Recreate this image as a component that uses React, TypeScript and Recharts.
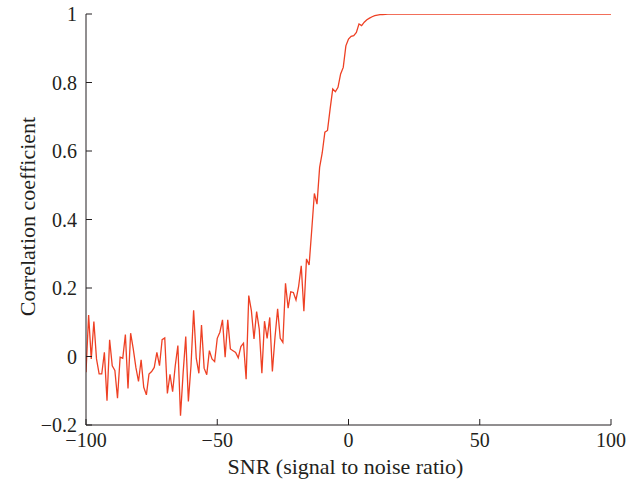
import React from 'react';
import { LineChart, Line, XAxis, YAxis } from 'recharts';

// SNR from -100 to 100 dB in 1 dB steps
const snrStart = -100;
const snrStep = 1;

// Correlation coefficient (one value per dB, -100 .. 100)
const correlation: number[] = [
  // -100 .. -91
  -0.046, 0.121, -0.007, 0.102, -0.007, -0.051, -0.051, 0.012, -0.129, 0.049,
  // -90 .. -81
  -0.027, -0.041, -0.122, -0.002, -0.005, 0.064, -0.093, 0.068, 0.022, -0.032,
  // -80 .. -71
  -0.073, -0.01, -0.09, -0.112, -0.051, -0.044, -0.032, 0.012, -0.027, 0.049,
  // -70 .. -61
  0.054, -0.108, -0.052, -0.103, -0.027, 0.032, -0.173, -0.048, 0.058, -0.131,
  // -60 .. -51
  -0.027, 0.135, -0.005, -0.049, 0.092, -0.034, -0.053, 0.017, -0.007, -0.015,
  // -50 .. -41
  0.053, 0.071, 0.107, -0.002, 0.107, 0.022, 0.017, 0.012, -0.004, 0.029,
  // -40 .. -31
  0.039, -0.066, 0.178, 0.134, 0.051, 0.131, 0.08, -0.049, 0.103, 0.053,
  // -30 .. -21
  0.114, -0.044, 0.056, 0.139, 0.053, 0.041, 0.214, 0.141, 0.189, 0.187,
  // -20 .. -11
  0.165, 0.205, 0.265, 0.132, 0.285, 0.267, 0.37, 0.476, 0.445, 0.552,
  // -10 .. -1
  0.595, 0.655, 0.66, 0.723, 0.781, 0.773, 0.786, 0.825, 0.844, 0.907,
  // 0 .. 9
  0.927, 0.935, 0.937, 0.946, 0.971, 0.966, 0.976, 0.983, 0.988, 0.992,
  // 10 .. 19
  0.995, 0.997, 0.998, 0.9985, 0.999, 0.9994, 0.9996, 0.9998, 0.9999, 1,
  // 20 .. 29
  1, 1, 1, 1, 1, 1, 1, 1, 1, 1,
  // 30 .. 39
  1, 1, 1, 1, 1, 1, 1, 1, 1, 1,
  // 40 .. 49
  1, 1, 1, 1, 1, 1, 1, 1, 1, 1,
  // 50 .. 59
  1, 1, 1, 1, 1, 1, 1, 1, 1, 1,
  // 60 .. 69
  1, 1, 1, 1, 1, 1, 1, 1, 1, 1,
  // 70 .. 79
  1, 1, 1, 1, 1, 1, 1, 1, 1, 1,
  // 80 .. 89
  1, 1, 1, 1, 1, 1, 1, 1, 1, 1,
  // 90 .. 100
  1, 1, 1, 1, 1, 1, 1, 1, 1, 1, 1,
];

const xTicks = [-100, -50, 0, 50, 100];
const yTicks = [-0.2, 0, 0.2, 0.4, 0.6, 0.8, 1];
const xLabel = 'SNR (signal to noise ratio)';
const yLabel = 'Correlation coefficient';

const data = correlation.map((c, i) => ({ snr: snrStart + i * snrStep, corr: c }));

const FONT = '"Liberation Serif", "Times New Roman", serif';
const INK = '#231f20';
const LINE = '#ee4024';

const fmt = (v: number) => {
  const s = Number.isInteger(v) ? String(v) : v.toFixed(1);
  return s.replace('-', '\u2212');
};
const blank = () => '';

const tickStyle = { fill: INK, fontSize: 20, fontFamily: FONT };

const renderXLabel = (props: any) => {
  const vb = props.viewBox || {};
  return (
    <text
      x={vb.x + vb.width / 2 - 3}
      y={vb.y + 49}
      textAnchor="middle"
      fill={INK}
      fontSize={22}
      fontFamily={FONT}
    >
      {xLabel}
    </text>
  );
};

const renderYLabel = (props: any) => {
  const vb = props.viewBox || {};
  const cx = vb.x + 27;
  const cy = vb.y + vb.height / 2 - 3;
  return (
    <text
      x={cx}
      y={cy}
      transform={`rotate(-90, ${cx}, ${cy})`}
      textAnchor="middle"
      dominantBaseline="central"
      fill={INK}
      fontSize={22}
      fontFamily={FONT}
    >
      {yLabel}
    </text>
  );
};

export default function App() {
  return (
    <div style={{ position: 'absolute', left: 0, top: 0, width: 626, height: 487, background: '#fff' }}>
      <LineChart width={626} height={487} data={data} margin={{ top: 14, right: 15, bottom: 0, left: 0 }}>
        <XAxis
          xAxisId="b"
          dataKey="snr"
          type="number"
          domain={[-100, 100]}
          ticks={xTicks}
          interval={0}
          tickFormatter={fmt}
          height={62}
          tickSize={-6}
          tickMargin={14}
          stroke={INK}
          tick={tickStyle}
          label={renderXLabel}
          allowDataOverflow
        />
        <XAxis
          xAxisId="t"
          orientation="top"
          dataKey="snr"
          type="number"
          domain={[-100, 100]}
          ticks={xTicks}
          interval={0}
          tickFormatter={blank}
          height={0}
          tickSize={-6}
          stroke={INK}
          allowDataOverflow
        />
        <YAxis
          yAxisId="l"
          type="number"
          domain={[-0.2, 1]}
          ticks={yTicks}
          interval={0}
          tickFormatter={fmt}
          width={86}
          tickSize={-6}
          tickMargin={15}
          stroke={INK}
          tick={tickStyle}
          label={renderYLabel}
          allowDataOverflow
        />
        <YAxis
          yAxisId="r"
          orientation="right"
          type="number"
          domain={[-0.2, 1]}
          ticks={yTicks}
          interval={0}
          tickFormatter={blank}
          width={0}
          tickSize={-6}
          stroke={INK}
          allowDataOverflow
        />
        <Line
          xAxisId="b"
          yAxisId="l"
          type="linear"
          dataKey="corr"
          stroke={LINE}
          strokeWidth={1.3}
          dot={false}
          isAnimationActive={false}
        />
      </LineChart>
    </div>
  );
}
